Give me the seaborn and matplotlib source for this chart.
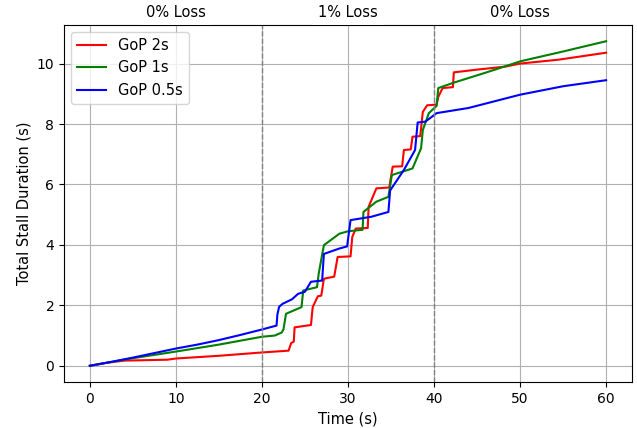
import numpy as np
import pandas as pd
import matplotlib
matplotlib.use("Agg")
import matplotlib.pyplot as plt
import seaborn as sns

# Cumulative stall duration (time in s, stall in s)
gop2_t = [0, 2, 4, 9, 10, 15, 20, 23.1, 23.4, 23.7, 23.8, 25.7, 25.9, 26.5, 26.9, 27.2,
          28.4, 28.8, 30.3, 30.5, 30.9, 32.3, 32.4, 33.3, 34.8, 35.2, 36.3, 36.5, 37.3,
          37.5, 38.4, 38.7, 39.2, 40.3, 40.5, 41.0, 42.2, 42.3, 45, 48.3, 50, 54.5, 60]
gop2_y = [0, 0.1, 0.17, 0.2, 0.24, 0.33, 0.44, 0.5, 0.75, 0.8, 1.27, 1.35, 1.94, 2.3, 2.32, 2.88,
          2.95, 3.6, 3.62, 4.26, 4.54, 4.56, 5.26, 5.87, 5.9, 6.59, 6.6, 7.14, 7.16,
          7.58, 7.6, 8.4, 8.62, 8.64, 8.9, 9.19, 9.22, 9.71, 9.8, 9.9, 10.0, 10.13, 10.36]

gop1_t = [0, 5, 10, 15, 20, 21.5, 22.3, 22.5, 22.8, 24.6, 24.8, 26.4, 26.6, 27.2, 29.0,
          30.0, 31.7, 31.8, 33.3, 34.7, 35.1, 37.5, 38.5, 38.7, 39.4, 40.3, 40.5, 42.2,
          46, 50.1, 55, 60]
gop1_y = [0, 0.25, 0.47, 0.7, 0.96, 1.0, 1.1, 1.2, 1.72, 1.94, 2.49, 2.6, 3.05, 3.99, 4.37,
          4.45, 4.5, 5.09, 5.43, 5.59, 6.31, 6.53, 7.2, 7.8, 8.36, 8.6, 9.19, 9.36,
          9.7, 10.08, 10.4, 10.74]

gop05_t = [0, 2.5, 5, 7.5, 10, 12.5, 15, 17.5, 20, 21.7, 21.8, 22.0, 22.4, 23.5, 24.2,
           25.0, 25.7, 27.0, 27.2, 29.0, 29.9, 30.3, 32.7, 34.7, 34.9, 36.5, 37.8, 38.1,
           39.0, 39.8, 40.3, 44, 50, 55, 60]
gop05_y = [0, 0.13, 0.27, 0.42, 0.57, 0.7, 0.85, 1.02, 1.2, 1.33, 1.7, 1.95, 2.05, 2.2, 2.38,
           2.45, 2.78, 2.82, 3.7, 3.88, 3.95, 4.82, 4.93, 5.09, 5.8, 6.48, 7.14, 8.05,
           8.08, 8.25, 8.36, 8.53, 8.97, 9.25, 9.45]

series = [("GoP 2s", gop2_t, gop2_y, "red"),
          ("GoP 1s", gop1_t, gop1_y, "green"),
          ("GoP 0.5s", gop05_t, gop05_y, "blue")]

phase_centers = [10, 30, 50]
phase_labels = ["0% Loss", "1% Loss", "0% Loss"]
phase_bounds = [20, 40]

fig, ax = plt.subplots(figsize=(6.37, 4.28), dpi=100)
fig.subplots_adjust(left=0.1005, right=0.992, top=0.9416, bottom=0.1075)

for name, t, y, c in series:
    df = pd.DataFrame({"t": t, "y": y})
    sns.lineplot(data=df, x="t", y="y", color=c, label=name, sort=False,
                 estimator=None, linewidth=1.5, ax=ax)

for b in phase_bounds:
    ax.axvline(b, color="gray", linestyle="--", linewidth=1)

# phase labels sit just above the plot, boxes slightly covering the top spine
for xc, lab in zip(phase_centers, phase_labels):
    ax.text(xc, 1.036, lab, transform=ax.get_xaxis_transform(), ha="center",
            va="center", fontsize=10.5,
            bbox=dict(facecolor="white", edgecolor="none", alpha=0.7, pad=4))

ax.set_xticks(range(0, 61, 10))
ax.grid(True)
ax.set_xlabel("Time (s)", fontsize=10.5)
ax.set_ylabel("Total Stall Duration (s)", fontsize=10.5)
ax.legend(loc="upper left", fontsize=10.5)

fig.savefig("out.png", dpi=100)
